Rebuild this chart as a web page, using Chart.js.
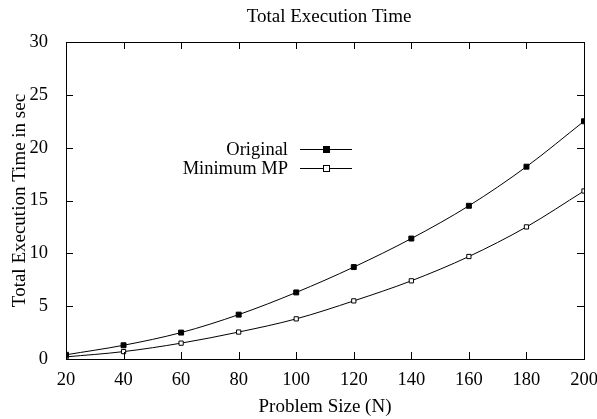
<!DOCTYPE html>
<html><head><meta charset="utf-8">
<script src="https://cdn.jsdelivr.net/npm/chart.js@4"></script>
<style>html,body{margin:0;padding:0;background:#fff}#wrap{width:597px;height:419px}</style>
</head><body><div id="wrap"><canvas id="c" width="597" height="419"></canvas></div>
<script>
const sizes=[20,40,60,80,100,120,140,160,180,200];
const original=[0.4,1.3,2.5,4.2,6.3,8.7,11.4,14.5,18.2,22.5];
const minimumMP=[0.2,0.7,1.5,2.55,3.8,5.5,7.4,9.7,12.5,15.9];
const xTicks=[20,40,60,80,100,120,140,160,180,200];
const yTicks=[0,5,10,15,20,25,30];
const FONT='"Liberation Serif", "Times New Roman", serif';

const boxTicks={id:'boxTicks',afterDraw(c){
 const g=c.ctx,a=c.chartArea,x=c.scales.x,y=c.scales.y;
 g.save();g.strokeStyle='#000';g.lineWidth=1;
 g.strokeRect(a.left+.5,a.top+.5,a.right-a.left,a.bottom-a.top);
 g.beginPath();
 xTicks.forEach(v=>{const p=Math.round(x.getPixelForValue(v))+.5;g.moveTo(p,a.bottom);g.lineTo(p,a.bottom-7);g.moveTo(p,a.top);g.lineTo(p,a.top+7);});
 yTicks.forEach(v=>{const p=Math.round(y.getPixelForValue(v))+.5;g.moveTo(a.left,p);g.lineTo(a.left+7,p);g.moveTo(a.right,p);g.lineTo(a.right-7,p);});
 g.stroke();
 // title
 g.fillStyle='#000';g.font='19px '+FONT;g.textAlign='center';g.textBaseline='middle';
 g.fillText('Total Execution Time',(a.left+a.right)/2+4,17);
 // legend
 g.font='18.5px '+FONT;g.textAlign='right';
 c.data.datasets.forEach((d,i)=>{
  const ly=Math.round(149+i*18.5),tx=288,lx0=300,lx1=352,mx=(lx0+lx1)/2;
  g.fillStyle='#000';g.fillText(d.label,tx,ly+1);
  g.beginPath();g.moveTo(lx0,ly+.5);g.lineTo(lx1,ly+.5);g.strokeStyle='#000';g.stroke();
  g.fillStyle=d.pointBackgroundColor;g.fillRect(mx-3,ly-3,7,7);g.strokeRect(mx-2.5,ly-2.5,6,6);
 });
 g.restore();
}};

new Chart(document.getElementById('c'),{
 type:'line',
 data:{datasets:[
  {label:'Original',data:sizes.map((s,i)=>({x:s,y:original[i]})),borderColor:'#000',borderWidth:1,pointStyle:'rect',pointRadius:3.5,pointBackgroundColor:'#000',pointBorderColor:'#000',pointBorderWidth:1,cubicInterpolationMode:'monotone'},
  {label:'Minimum MP',data:sizes.map((s,i)=>({x:s,y:minimumMP[i]})),borderColor:'#000',borderWidth:1,pointStyle:'rect',pointRadius:3,pointBackgroundColor:'#fff',pointBorderColor:'#000',pointBorderWidth:1,cubicInterpolationMode:'monotone'}
 ]},
 options:{responsive:false,animation:false,
  layout:{padding:{top:42,right:13,left:0,bottom:0}},
  plugins:{legend:{display:false},tooltip:{enabled:false}},
  scales:{
   x:{type:'linear',min:20,max:200,afterBuildTicks:s=>{s.ticks=xTicks.map(v=>({value:v}));},
    grid:{display:false},border:{display:false},
    ticks:{color:'#000',font:{family:FONT,size:18.5},padding:2,maxRotation:0},
    title:{display:true,text:'Problem Size (N)',color:'#000',font:{family:FONT,size:19},padding:{top:0,bottom:1}},
    afterFit:s=>{s.height=60;s.paddingLeft=0;s.paddingRight=0;}},
   y:{min:0,max:30,afterBuildTicks:s=>{s.ticks=yTicks.map(v=>({value:v}));},
    grid:{display:false},border:{display:false},
    ticks:{color:'#000',font:{family:FONT,size:18.5},padding:10},
    title:{display:true,text:'Total Execution Time in sec',color:'#000',font:{family:FONT,size:19},padding:{top:9,bottom:0}},
    afterFit:s=>{s.width=66;s.paddingTop=0;s.paddingBottom=0;}}
  }
 },
 plugins:[boxTicks]
});
</script></body></html>
